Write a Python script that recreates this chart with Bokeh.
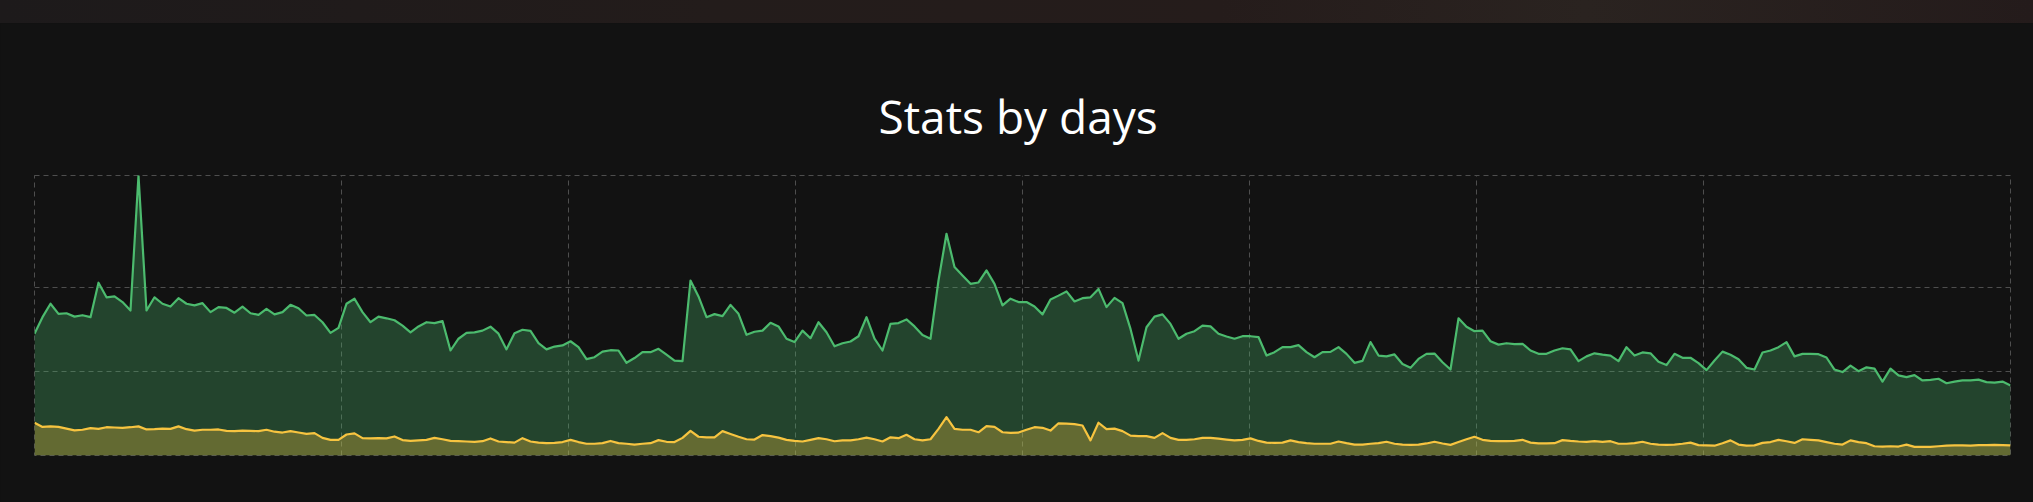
from bokeh.plotting import figure
from bokeh.models import FixedTicker, Div, Range1d, GlobalInlineStyleSheet
from bokeh.layouts import column
from bokeh.embed import file_html
from bokeh.resources import INLINE

title_text = "Stats by days"

green_values = [
    43.5, 49.4, 54.2, 50.6, 50.8, 49.6, 50.1, 49.4, 61.7, 56.5,
    56.8, 54.8, 51.8, 100.0, 51.8, 56.5, 54.2, 53.2, 56.2, 54.2,
    53.6, 54.4, 51.2, 53.0, 52.7, 51.0, 53.2, 50.8, 50.2, 52.4,
    50.4, 51.2, 53.8, 52.6, 50.0, 50.2, 47.6, 43.8, 45.6, 54.2,
    56.0, 51.2, 47.6, 49.6, 49.0, 48.3, 46.4, 44.0, 46.1, 47.6,
    47.3, 48.0, 37.5, 41.7, 43.8, 44.0, 44.6, 46.0, 43.5, 37.9,
    43.7, 44.9, 44.5, 40.1, 37.9, 38.9, 39.3, 40.8, 38.7, 34.4,
    35.1, 37.1, 37.6, 37.5, 33.1, 34.8, 36.9, 36.9, 38.1, 36.0,
    33.9, 33.7, 62.5, 56.8, 49.4, 50.5, 49.8, 53.8, 50.6, 43.1,
    44.2, 44.6, 47.4, 46.1, 41.7, 40.5, 44.6, 41.9, 47.6, 44.0,
    39.0, 40.1, 40.7, 42.6, 49.4, 41.7, 37.5, 47.0, 47.3, 48.6,
    46.1, 43.0, 41.7, 62.5, 79.2, 67.3, 64.3, 61.3, 61.8, 66.1,
    61.3, 53.6, 56.0, 54.8, 54.8, 53.2, 50.4, 55.7, 57.1, 58.6,
    55.0, 56.2, 56.5, 59.5, 53.0, 56.3, 54.4, 45.2, 33.9, 45.8,
    49.6, 50.4, 47.0, 41.7, 43.5, 44.4, 46.4, 46.1, 43.5, 42.5,
    41.7, 42.6, 42.6, 42.3, 35.7, 36.9, 38.7, 38.7, 39.4, 36.9,
    35.1, 36.9, 37.0, 38.7, 36.3, 33.1, 33.8, 40.5, 35.7, 35.4,
    36.1, 32.7, 31.3, 34.5, 36.3, 36.4, 33.3, 30.7, 49.0, 46.0,
    44.4, 44.6, 40.8, 39.6, 40.1, 39.8, 39.9, 37.5, 36.3, 36.3,
    37.5, 38.3, 37.9, 33.7, 35.4, 36.5, 36.0, 35.7, 33.7, 38.7,
    35.7, 36.8, 36.5, 33.5, 32.3, 36.3, 34.9, 34.9, 33.0, 30.5,
    33.9, 37.1, 36.0, 34.4, 31.3, 30.7, 36.8, 37.5, 38.7, 40.5,
    35.4, 36.3, 36.3, 36.2, 35.0, 30.7, 29.8, 32.1, 30.1, 31.5,
    31.0, 26.4, 31.0, 28.6, 28.0, 28.7, 26.8, 27.0, 27.4, 25.8,
    26.4, 26.8, 26.8, 27.1, 26.2, 26.0, 26.4, 25.0,
]

yellow_values = [
    11.7, 10.2, 10.4, 10.2, 9.6, 9.0, 9.2, 9.8, 9.5, 10.1,
    10.0, 9.9, 10.1, 10.4, 9.3, 9.4, 9.6, 9.5, 10.4, 9.4,
    8.9, 9.2, 9.2, 9.3, 8.8, 8.7, 8.9, 8.8, 8.7, 9.2,
    8.5, 8.2, 8.7, 8.2, 7.7, 8.0, 6.3, 5.6, 5.6, 7.5,
    7.9, 6.2, 6.1, 6.2, 6.1, 6.8, 5.5, 5.2, 5.4, 5.6,
    6.3, 5.8, 5.2, 5.1, 5.0, 4.9, 5.1, 6.1, 5.0, 4.8,
    4.6, 6.2, 5.0, 4.6, 4.4, 4.5, 4.8, 5.6, 4.8, 4.2,
    4.2, 4.4, 5.2, 4.4, 4.2, 3.9, 4.2, 4.4, 5.5, 4.9,
    4.8, 6.3, 8.8, 6.7, 6.5, 6.5, 8.7, 7.7, 6.7, 5.8,
    5.7, 7.3, 6.9, 6.4, 5.6, 5.2, 5.0, 5.6, 6.2, 5.8,
    5.1, 5.4, 5.4, 5.8, 6.4, 5.8, 5.0, 6.5, 6.2, 7.4,
    5.8, 5.4, 5.8, 9.5, 13.7, 9.5, 9.2, 9.2, 8.3, 10.5,
    10.2, 8.3, 8.1, 8.2, 9.2, 10.1, 9.9, 8.9, 11.5, 11.4,
    11.2, 10.7, 5.4, 11.7, 9.4, 9.6, 8.7, 7.1, 6.9, 6.9,
    6.3, 8.0, 6.3, 5.6, 5.6, 5.8, 6.3, 6.3, 6.0, 5.7,
    5.4, 5.6, 6.1, 5.2, 4.6, 4.5, 4.6, 5.4, 4.8, 4.4,
    4.2, 4.2, 4.2, 5.0, 4.4, 3.9, 3.9, 4.2, 4.4, 4.9,
    4.2, 3.9, 3.8, 3.9, 4.3, 4.9, 4.3, 3.8, 4.8, 5.8,
    6.7, 5.6, 5.2, 5.1, 5.1, 5.2, 5.6, 4.6, 4.3, 4.3,
    4.4, 5.5, 5.2, 5.0, 4.9, 5.1, 4.9, 5.1, 4.2, 4.2,
    4.4, 4.9, 4.2, 3.9, 3.8, 3.9, 4.2, 4.6, 3.7, 3.6,
    3.5, 4.4, 5.4, 3.9, 3.5, 3.6, 4.5, 4.8, 5.6, 5.1,
    4.5, 5.8, 5.6, 5.4, 4.8, 4.2, 3.9, 5.4, 4.8, 4.4,
    3.3, 3.2, 3.3, 3.2, 3.9, 3.1, 3.1, 3.1, 3.3, 3.5,
    3.6, 3.6, 3.5, 3.7, 3.7, 3.8, 3.7, 3.6,
]

days = list(range(len(green_values)))
y_max = 100
y_gridlines = [30, 60]

BG = "#121212"
GRID = "#4e4e4e"
GREEN = "#4cbb6e"
YELLOW = "#f7c440"

n = len(days)
center = (n - 1) / 2
step = (n - 1) * 227 / 1976
x_gridlines = [center + k * step for k in range(-3, 4)]

p = figure(
    width=2033, height=479,
    x_range=Range1d(0, n - 1), y_range=Range1d(0, y_max),
    output_backend="svg", toolbar_location=None,
    min_border_left=34, min_border_right=23,
    min_border_top=152, min_border_bottom=47,
    background_fill_color=BG, border_fill_color=BG,
    margin=0,
)
p.title.text = title_text
p.title.align = "left"
p.title.offset = 844
p.title.text_font = "Open Sans"
p.title.text_font_size = "46px"
p.title.text_font_style = "normal"
p.title.text_color = "#ffffff"
p.title.standoff = 58

p.axis.visible = False
p.xgrid.ticker = FixedTicker(ticks=x_gridlines)
p.ygrid.ticker = FixedTicker(ticks=y_gridlines)
for g in (p.xgrid, p.ygrid):
    g.grid_line_color = GRID
    g.grid_line_dash = "5 4"
    g.grid_line_width = 1
p.outline_line_color = GRID
p.outline_line_dash = "5 4"
p.outline_line_width = 1

p.varea(x=days, y1=0, y2=green_values, fill_color=GREEN, fill_alpha=0.3)
p.line(days, green_values, line_color=GREEN, line_width=2.2, line_join="round")
p.varea(x=days, y1=0, y2=yellow_values, fill_color=YELLOW, fill_alpha=0.3)
p.line(days, yellow_values, line_color=YELLOW, line_width=2.2, line_join="round")

strip = Div(
    text="", width=2033, height=23, margin=0,
    styles={"background": "linear-gradient(90deg, #1d1a1b 0%, #231c1b 35%, #251c1b 60%, #2a2320 78%, #241b1b 100%)"},
)

page = column(
    strip, p, spacing=0, margin=0,
    stylesheets=[GlobalInlineStyleSheet(css="html,body{margin:0;padding:0;background:#121212;overflow:hidden;}")],
)

open("out.html", "w").write(file_html(page, INLINE))
